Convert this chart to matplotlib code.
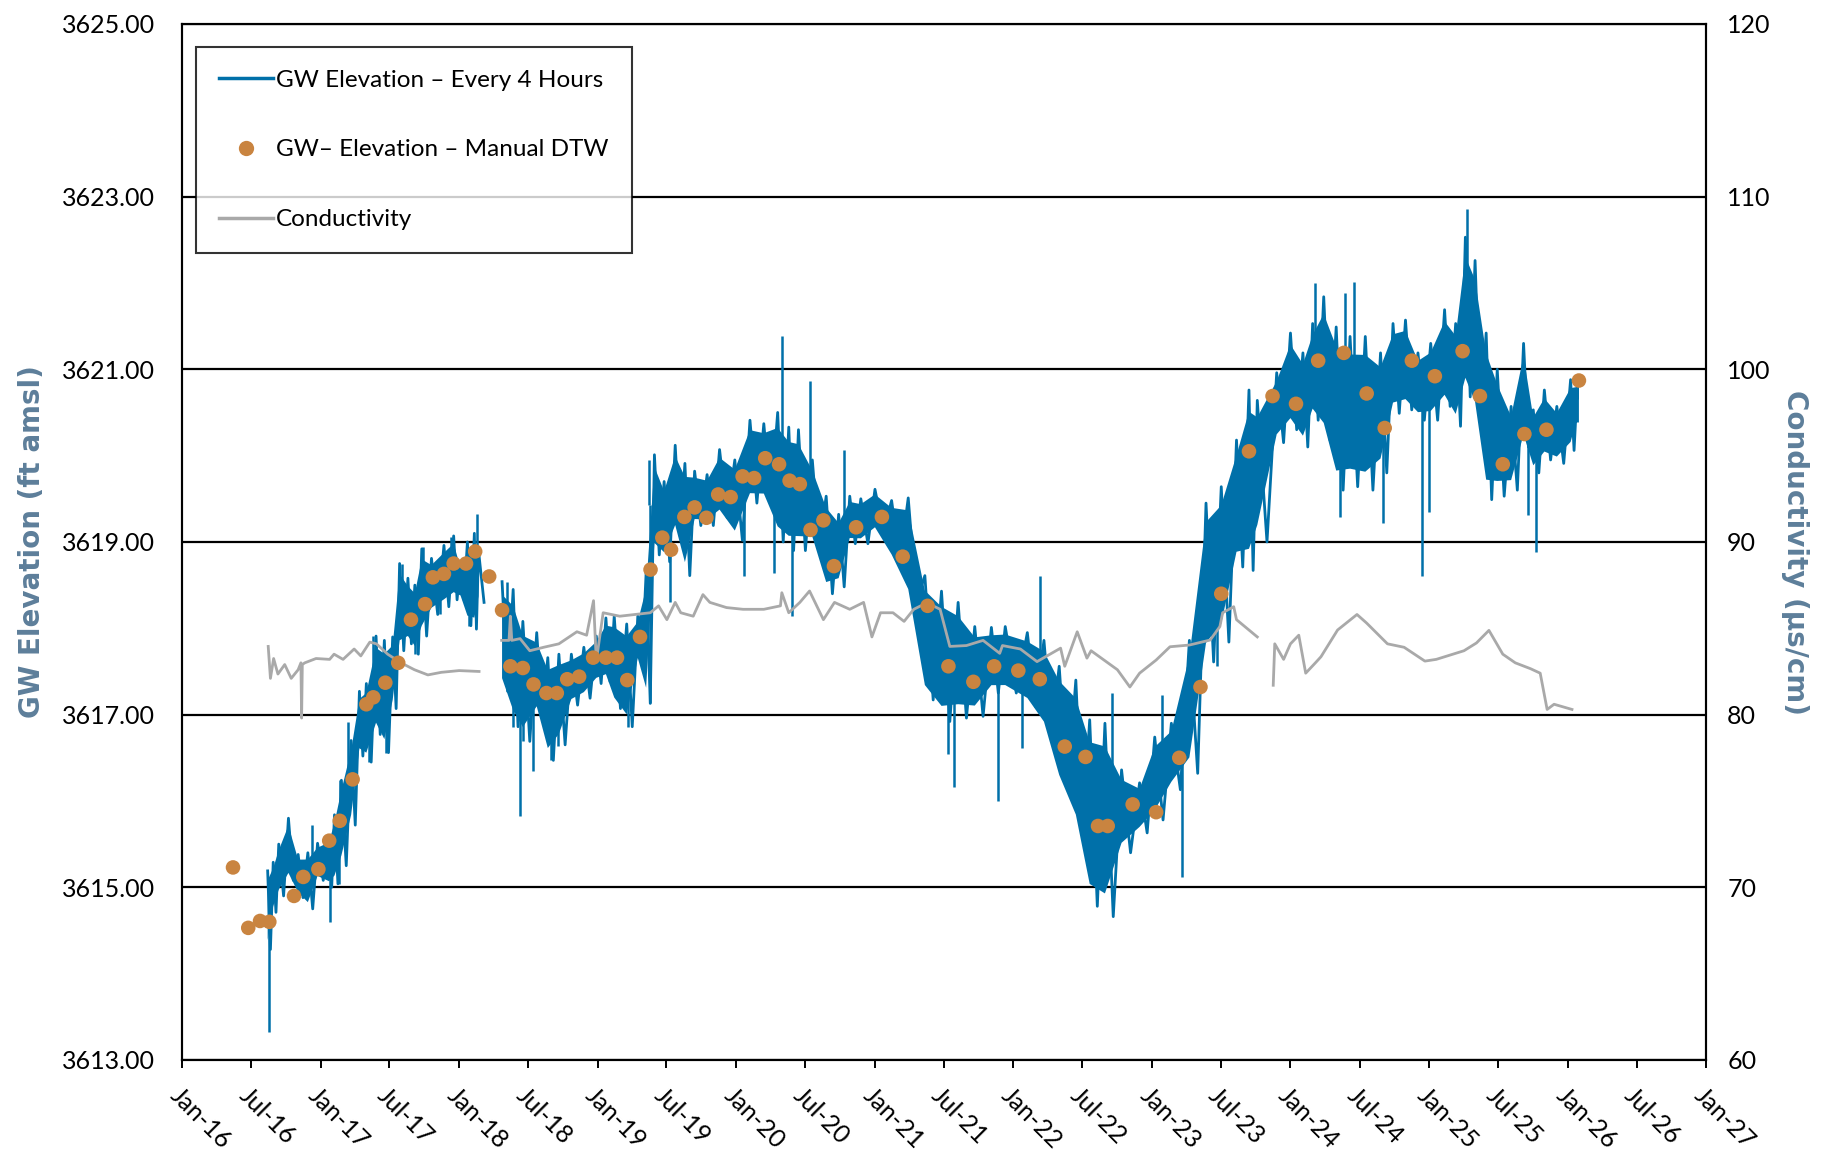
import matplotlib
matplotlib.use("Agg")
import matplotlib.pyplot as plt
import matplotlib.dates as mdates
from matplotlib.lines import Line2D
import numpy as np
from datetime import datetime, timedelta

plt.rcParams['font.family'] = ['Lato', 'DejaVu Sans']

# GW elevation every 4 hours, read as low/high band per time step (decimal years)
gw4h_date = [2016.62, 2016.66, 2016.70, 2016.77, 2016.84, 2016.91, 2016.98, 2017.06, 2017.10, 2017.15,
             2017.22, 2017.28, 2017.33, 2017.40, 2017.46, 2017.52, 2017.57, 2017.63, 2017.68, 2017.73,
             2017.80, 2017.89, 2017.96, 2018.01, 2018.06, 2018.11, 2018.14, 2018.22,
             2018.31, 2018.39, 2018.46, 2018.56, 2018.64, 2018.72, 2018.81, 2018.90, 2018.99, 2019.06,
             2019.12, 2019.21, 2019.29, 2019.35, 2019.41, 2019.48, 2019.56, 2019.63, 2019.70, 2019.79,
             2019.88, 2019.99, 2020.10, 2020.20, 2020.30, 2020.38, 2020.45, 2020.55, 2020.65, 2020.74,
             2020.82, 2020.90, 2021.00, 2021.12, 2021.24, 2021.36, 2021.48, 2021.60, 2021.72, 2021.84,
             2021.94, 2022.10, 2022.22, 2022.33, 2022.45, 2022.55, 2022.66, 2022.78, 2022.91, 2023.02,
             2023.14, 2023.27, 2023.39, 2023.50, 2023.61, 2023.70, 2023.76, 2023.90, 2024.00, 2024.09,
             2024.16, 2024.24, 2024.33, 2024.43, 2024.54, 2024.65, 2024.74, 2024.83, 2024.92, 2025.01,
             2025.11, 2025.19, 2025.26, 2025.33, 2025.41, 2025.49, 2025.59, 2025.68, 2025.75, 2025.83,
             2025.92, 2026.02, 2026.07]
gw4h_lo = [3614.28, 3614.71, 3614.90, 3615.08, 3614.88, 3614.75, 3615.08, 3615.00, 3615.04, 3615.25,
           3615.72, 3616.52, 3616.45, 3616.77, 3616.56, 3617.07, 3617.74, 3617.82, 3617.70, 3617.91,
           3618.16, 3618.25, 3618.33, 3618.33, 3618.03, 3617.99, 3618.30, np.nan,
           3617.27, 3616.86, 3616.69, 3616.98, 3616.47, 3616.65, 3617.11, 3617.19, 3617.36, 3617.38,
           3617.07, 3616.86, 3617.59, 3617.13, 3618.85, 3618.77, 3619.07, 3618.61, 3619.19, 3619.19,
           3619.28, 3619.02, 3619.45, 3619.45, 3619.00, 3618.90, 3618.90, 3618.94, 3618.40, 3618.48,
           3618.98, 3618.98, 3619.11, 3618.77, 3618.31, 3617.17, 3616.92, 3616.96, 3616.98, 3617.25,
           3617.25, 3617.09, 3616.79, 3616.13, 3615.63, 3614.78, 3614.66, 3615.40, 3615.63, 3615.78,
           3616.13, 3616.32, 3617.61, 3617.84, 3618.71, 3618.67, 3619.00, 3620.15, 3620.30, 3620.10,
           3620.41, 3620.18, 3619.60, 3619.64, 3619.60, 3619.80, 3620.49, 3620.53, 3620.41, 3620.41,
           3620.57, 3620.34, 3620.68, 3620.40, 3619.49, 3619.53, 3619.60, 3620.10, 3619.80, 3619.95,
           3619.91, 3620.06, 3620.40]
gw4h_hi = [3615.19, 3615.29, 3615.50, 3615.80, 3615.38, 3615.40, 3615.51, 3615.59, 3615.84, 3616.24,
           3616.70, 3617.27, 3617.36, 3617.91, 3617.86, 3617.90, 3618.75, 3618.58, 3618.50, 3618.92,
           3618.81, 3618.96, 3619.07, 3618.75, 3619.00, 3619.10, 3618.90, np.nan,
           3618.54, 3618.45, 3618.08, 3617.95, 3617.66, 3617.70, 3617.70, 3617.78, 3617.91, 3618.12,
           3618.14, 3618.05, 3618.14, 3618.64, 3620.01, 3619.70, 3620.12, 3619.91, 3619.82, 3619.78,
           3620.07, 3619.95, 3620.41, 3620.37, 3620.50, 3620.33, 3620.30, 3619.95, 3619.53, 3619.32,
           3619.53, 3619.50, 3619.61, 3619.48, 3619.51, 3618.61, 3618.43, 3618.30, 3618.02, 3618.01,
           3618.02, 3617.95, 3617.86, 3617.56, 3617.40, 3616.94, 3616.90, 3616.36, 3616.21, 3616.74,
           3616.90, 3617.86, 3619.45, 3619.64, 3620.18, 3620.76, 3620.64, 3620.96, 3621.42, 3621.19,
           3621.53, 3621.84, 3621.49, 3621.38, 3621.38, 3621.19, 3621.53, 3621.57, 3621.19, 3621.30,
           3621.69, 3621.53, 3622.53, 3622.26, 3621.42, 3621.00, 3620.57, 3621.30, 3620.53, 3620.76,
           3620.57, 3620.88, 3620.85]

# Single 4-hour readings that stick out of the band
spike_date = [2016.63, 2016.94, 2017.07, 2017.13, 2017.14, 2017.20, 2017.35, 2017.38, 2017.47, 2017.59,
              2017.68, 2017.74, 2017.86, 2017.94, 2018.075, 2018.13, 2018.345, 2018.39, 2018.44, 2018.46,
              2018.53, 2018.66, 2018.715, 2019.22, 2019.37, 2019.38, 2019.52, 2020.06,
              2020.27, 2020.33, 2020.40, 2020.53, 2020.78, 2021.25, 2021.53, 2021.57, 2021.89, 2022.06,
              2022.19, 2022.71, 2023.07, 2023.215, 2023.47, 2024.18, 2024.36, 2024.39, 2024.46, 2024.665,
              2024.95, 2025.00, 2025.27, 2025.71, 2025.77]
spike_gw = [3613.32, 3615.72, 3614.60, 3615.04, 3616.24, 3616.92, 3616.45, 3617.91, 3616.56, 3618.75,
            3617.70, 3618.94, 3618.16, 3619.06, 3618.03, 3619.32, 3618.54, 3616.86, 3615.82, 3616.69,
            3616.35, 3616.47, 3616.64, 3616.86, 3619.95, 3617.13, 3618.31, 3618.60,
            3618.64, 3621.38, 3618.14, 3620.87, 3620.07, 3617.89, 3616.54, 3616.16, 3616.00, 3616.61,
            3618.60, 3617.25, 3617.23, 3615.12, 3617.56, 3622.00, 3619.29, 3621.88, 3622.01, 3619.22,
            3618.60, 3619.35, 3622.86, 3619.31, 3618.88]

# Manual depth-to-water readings
dtw_date = [2016.37, 2016.48, 2016.565, 2016.632, 2016.81, 2016.877, 2016.986, 2017.062, 2017.138, 2017.231,
            2017.33, 2017.38, 2017.467, 2017.56, 2017.652, 2017.754, 2017.81, 2017.89, 2017.96, 2018.05,
            2018.116, 2018.217, 2018.31, 2018.37, 2018.46, 2018.537, 2018.63, 2018.705, 2018.78, 2018.866,
            2018.967, 2019.06, 2019.14, 2019.214, 2019.306, 2019.382, 2019.467, 2019.53, 2019.626, 2019.70,
            2019.785, 2019.87, 2019.96, 2020.047, 2020.13, 2020.21, 2020.31, 2020.386, 2020.46, 2020.537,
            2020.63, 2020.706, 2020.866, 2021.05, 2021.20, 2021.38, 2021.53, 2021.71, 2021.86, 2022.035,
            2022.19, 2022.37, 2022.52, 2022.61, 2022.68, 2022.86, 2023.03, 2023.197, 2023.35, 2023.50,
            2023.70, 2023.87, 2024.04, 2024.20, 2024.385, 2024.55, 2024.68, 2024.876, 2025.04, 2025.24,
            2025.365, 2025.53, 2025.686, 2025.845, 2026.08]
dtw_gw = [3615.23, 3614.53, 3614.61, 3614.60, 3614.90, 3615.12, 3615.21, 3615.54, 3615.77, 3616.25,
          3617.12, 3617.20, 3617.37, 3617.60, 3618.10, 3618.28, 3618.59, 3618.63, 3618.75, 3618.75,
          3618.89, 3618.60, 3618.21, 3617.56, 3617.54, 3617.35, 3617.25, 3617.25, 3617.41, 3617.44,
          3617.66, 3617.66, 3617.66, 3617.40, 3617.90, 3618.68, 3619.05, 3618.91, 3619.29, 3619.40,
          3619.28, 3619.55, 3619.52, 3619.76, 3619.74, 3619.97, 3619.90, 3619.71, 3619.67, 3619.14,
          3619.25, 3618.72, 3619.17, 3619.29, 3618.83, 3618.26, 3617.56, 3617.38, 3617.56, 3617.51,
          3617.41, 3616.63, 3616.51, 3615.71, 3615.71, 3615.96, 3615.87, 3616.50, 3617.32, 3618.40,
          3620.05, 3620.69, 3620.60, 3621.10, 3621.19, 3620.72, 3620.32, 3621.10, 3620.92, 3621.21,
          3620.69, 3619.90, 3620.25, 3620.30, 3620.87]

# Conductivity (us/cm), three logger segments separated by nan
cond_date = [2016.624, 2016.64, 2016.663, 2016.694, 2016.743, 2016.79, 2016.84, 2016.86, 2016.865, 2016.87,
             2016.888, 2016.969, 2017.065, 2017.097, 2017.162, 2017.242, 2017.29, 2017.355, 2017.403, 2017.484,
             2017.58, 2017.677, 2017.774, 2017.871, 2018.0, 2018.144, 2018.22,
             2018.307, 2018.36, 2018.37, 2018.38, 2018.44, 2018.51, 2018.61, 2018.72, 2018.85, 2018.92,
             2018.97, 2018.99, 2019.04, 2019.16, 2019.38, 2019.44, 2019.50, 2019.56, 2019.60, 2019.69,
             2019.76, 2019.81, 2019.93, 2020.05, 2020.20, 2020.32, 2020.33, 2020.38, 2020.46, 2020.53,
             2020.63, 2020.71, 2020.82, 2020.92, 2020.98, 2021.04, 2021.13, 2021.21, 2021.28, 2021.33,
             2021.42, 2021.47, 2021.54, 2021.66, 2021.78, 2021.90, 2021.92, 2022.05, 2022.17, 2022.34,
             2022.37, 2022.46, 2022.53, 2022.56, 2022.75, 2022.84, 2022.91, 2023.03, 2023.13, 2023.27,
             2023.42, 2023.49, 2023.51, 2023.59, 2023.61, 2023.67, 2023.76, 2023.82,
             2023.875, 2023.886, 2023.95, 2024.00, 2024.06, 2024.11, 2024.18, 2024.22, 2024.34, 2024.48,
             2024.55, 2024.70, 2024.82, 2024.97, 2025.05, 2025.25, 2025.34, 2025.43, 2025.53, 2025.62,
             2025.73, 2025.80, 2025.85, 2025.90, 2026.03]
cond_val = [83.95, 82.1, 83.25, 82.35, 82.9, 82.1, 82.6, 83.0, 79.8, 82.9,
            83.0, 83.25, 83.2, 83.5, 83.2, 83.8, 83.4, 84.2, 84.1, 83.5,
            83.0, 82.6, 82.3, 82.45, 82.55, 82.5, np.nan,
            84.3, 84.3, 85.7, 84.3, 84.4, 83.7, 83.9, 84.1, 84.8, 84.6,
            86.6, 83.1, 85.9, 85.7, 85.9, 86.3, 85.5, 86.5, 85.9, 85.7,
            86.95, 86.5, 86.2, 86.1, 86.1, 86.3, 87.06, 85.9, 86.5, 87.16,
            85.5, 86.5, 86.1, 86.5, 84.5, 85.9, 85.9, 85.4, 86.1, 86.3,
            86.3, 86.1, 83.95, 84.0, 84.3, 83.55, 84.0, 83.8, 83.07, 83.85,
            82.8, 84.8, 83.27, 83.7, 82.6, 81.6, 82.4, 83.16, 83.93, 84.03,
            84.32, 85.1, 85.9, 86.25, 85.5, 85.1, 84.5, np.nan,
            81.7, 84.1, 83.2, 84.1, 84.6, 82.4, 83.0, 83.35, 84.9, 85.8,
            85.3, 84.1, 83.9, 83.1, 83.2, 83.7, 84.15, 84.88, 83.5, 83.0,
            82.66, 82.4, 80.3, 80.6, 80.3]


def to_dt(yrs):
    out = []
    for y in yrs:
        yi = int(y)
        out.append(datetime(yi, 1, 1) + timedelta(days=(y - yi) * 365.25))
    return out


blue = '#0070A9'
orange = '#C98440'
grey = '#A9A9A9'
label_col = '#5D7E9A'

fig = plt.figure(figsize=(18.32, 11.52), dpi=100)
ax = fig.add_axes([0.0992, 0.0799, 0.8322, 0.8993])
ax2 = ax.twinx()

# GW band: solid core plus a zigzag trace out to the read highs and lows
d = mdates.date2num(to_dt(gw4h_date))
lo = np.array(gw4h_lo)
hi = np.array(gw4h_hi)
span = hi - lo
ax.fill_between(d, lo + 0.12 * span, hi - 0.12 * span, color=blue, lw=0, zorder=2)
mid = np.append((d[:-1] + d[1:]) / 2, d[-1])
zx = np.column_stack([d, mid]).ravel()
zy = np.column_stack([hi, lo]).ravel()
ax.plot(zx, zy, color=blue, lw=2.0, zorder=2)
# spikes drawn from the band centre
sd = mdates.date2num(to_dt(spike_date))
idx = np.clip(np.searchsorted(np.array(gw4h_date), spike_date), 0, len(gw4h_date) - 1)
base = (lo[idx] + hi[idx]) / 2
ax.vlines(sd, base, spike_gw, color=blue, lw=1.8, zorder=2)

# conductivity on right axis, manual DTW dots drawn over it
ax2.plot(to_dt(cond_date), cond_val, color=grey, lw=2.0, zorder=2)
ax2.scatter(to_dt(dtw_date), dtw_gw, s=110, color=orange, edgecolors='none',
            transform=ax.transData, zorder=4)

ax.set_xlim(datetime(2016, 1, 1), datetime(2027, 1, 1))
ax.set_ylim(3613, 3625)
ax2.set_ylim(60, 120)
ax.set_yticks(np.arange(3613, 3626, 2))
ax2.set_yticks(np.arange(60, 121, 10))
ax.yaxis.set_major_formatter(matplotlib.ticker.FormatStrFormatter('%.2f'))
ax.xaxis.set_major_locator(mdates.MonthLocator(bymonth=[1, 7]))
ax.xaxis.set_major_formatter(mdates.DateFormatter('%b-%y'))

ax.grid(axis='y', color='black', lw=1.6)
ax.set_axisbelow(True)
ax.tick_params(axis='y', length=0, pad=19, labelsize=18)
ax2.tick_params(axis='y', length=0, pad=15, labelsize=18)
ax.tick_params(axis='x', length=6, width=1.4, pad=11, labelsize=18)
plt.setp(ax.get_xticklabels(), rotation=-45, ha='left', va='top', rotation_mode='anchor')
for a in (ax, ax2):
    for s in a.spines.values():
        s.set_color('black')
        s.set_linewidth(1.5)

ax.set_ylabel('GW Elevation (ft amsl)', color=label_col, fontsize=20, fontweight='bold',
              family=['Liberation Sans Narrow', 'DejaVu Sans'])
ax.yaxis.set_label_coords(-0.089, 0.5)
ax2.set_ylabel('Conductivity (\u00b5s/cm)', color=label_col, fontsize=20, fontweight='bold',
               rotation=270, va='bottom', family=['Liberation Sans Narrow', 'DejaVu Sans'])
ax2.yaxis.set_label_coords(1.049, 0.49)

handles = [Line2D([], [], color=blue, lw=2.5),
           Line2D([], [], color=orange, marker='o', ls='none', markersize=11, markeredgecolor='none'),
           Line2D([], [], color=grey, lw=2.5)]
labels = ['GW Elevation \u2013 Every 4 Hours', 'GW\u2013 Elevation \u2013 Manual DTW', 'Conductivity']
leg = ax2.legend(handles, labels, loc='upper left', bbox_to_anchor=(0.0094, 0.978), borderaxespad=0,
                 fontsize=17.5, frameon=True, fancybox=False, shadow=False, labelspacing=2.0,
                 handlelength=2.2, handletextpad=0.15, borderpad=0.95, numpoints=1)
leg.get_frame().set_edgecolor('black')
leg.get_frame().set_linewidth(1.5)
leg.set_zorder(10)

fig.savefig('out.png', dpi=100)
